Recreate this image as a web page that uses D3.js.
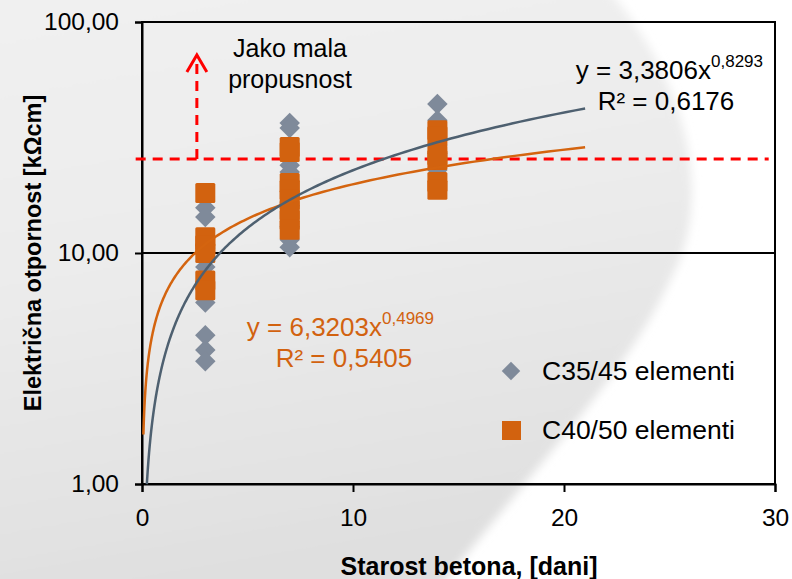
<!DOCTYPE html>
<html>
<head>
<meta charset="utf-8">
<script src="https://cdn.jsdelivr.net/npm/d3@7"></script>
<style>
  html,body{margin:0;padding:0;background:#fff;}
  svg text{font-family:"Liberation Sans",Arial,sans-serif;}
</style>
</head>
<body>
<svg id="chart" width="792" height="579"></svg>
<script>
/* ── data ── */
var xTicks=[0,10,20,30];
var yTicks=[1,10,100];
var yTickLabels=['1,00','10,00','100,00'];

// C35/45 elementi (rombovi)
var c35Age=[3,3,3,3,3,3,3,3, 7,7,7,7,7,7,7,7, 14,14,14,14,14];
var c35Val=[15.7,14.3,10.5,8.7,6.1,4.4,3.8,3.4, 36.5,34.8,24,22.4,16,13,11.4,10.6, 44.2,37.6,29.3,27,22.9];

// C40/50 elementi (kvadrati)
var c40Age=[3,3,3,3,3,3, 7,7,7,7,7,7,7,7, 14,14,14,14,14,14];
var c40Val=[18.2,11.7,10.8,10.0,7.6,6.9, 28.8,27.4,20.1,18.8,17.0,15.3,13.9,12.6, 34,32,26.5,25.3,20.3,18.8];

// power trendlines y = a*x^b  [a, b, xStart, xEnd]
var fitC35=[3.3806,0.8293,0.23,21];
var fitC40=[6.3203,0.4969,0.066,21];

// granica "jako mala propusnost"
var limitVal=25.5;
var limitX=[-0.3,29.7];
var arrowX=2.6, arrowTop=72;

/* ── layout ── */
var svg=d3.select('#chart');
var L=142, R=775, T=22, B=484;
var x=d3.scaleLinear().domain([0,30]).range([L,R]);
var y=d3.scaleLog().domain([1,100]).range([B,T]);

var GREY='#7f8a9a', ORANGE='#d2620f', BLUE_LINE='#4e6070', ORANGE_LINE='#d4640f';

/* ── background globe (approximation) ── */
var defs=svg.append('defs');
var grad=defs.append('linearGradient').attr('id','globe').attr('x1',0).attr('y1',0).attr('x2',0.2).attr('y2',1);
grad.append('stop').attr('offset','0%').attr('stop-color','#f1f1f1');
grad.append('stop').attr('offset','50%').attr('stop-color','#ebebeb');
grad.append('stop').attr('offset','100%').attr('stop-color','#dfdfdf');
defs.append('filter').attr('id','soft').attr('x','-10%').attr('y','-10%').attr('width','120%').attr('height','120%')
  .append('feGaussianBlur').attr('stdDeviation',5);
svg.append('rect').attr('width',792).attr('height',579).attr('fill','#fff');
svg.append('path')
  .attr('d','M-20,-20 L600,-20 C690,80 715,200 670,280 C630,370 540,460 430,600 L-20,600 Z')
  .attr('fill','url(#globe)').attr('filter','url(#soft)');

/* ── grid + frame ── */
svg.append('line').attr('x1',L).attr('x2',R).attr('y1',y(10)).attr('y2',y(10))
  .attr('stroke','#000').attr('stroke-width',2);
svg.append('rect').attr('x',L).attr('y',T).attr('width',R-L).attr('height',B-T)
  .attr('fill','none').attr('stroke','#000').attr('stroke-width',2);

/* ── axes ── */
var yAxis=svg.append('g').attr('transform','translate('+L+',0)')
  .call(d3.axisLeft(y).tickValues(yTicks).tickSize(7).tickPadding(16)
    .tickFormat(function(d,i){return yTickLabels[i];}));
var xAxis=svg.append('g').attr('transform','translate(0,'+B+')')
  .call(d3.axisBottom(x).tickValues(xTicks).tickSize(8).tickPadding(17));
[yAxis,xAxis].forEach(function(a){
  a.select('.domain').attr('stroke','#000').attr('stroke-width',2);
  a.selectAll('.tick line').attr('stroke','#000').attr('stroke-width',2);
  a.selectAll('.tick text').attr('font-size',24.5).attr('fill','#000')
    .attr('font-family','Liberation Sans,Arial,sans-serif');
});

svg.append('text').attr('x',469).attr('y',575).attr('text-anchor','middle')
  .attr('font-size',25).attr('font-weight','bold').text('Starost betona, [dani]');
svg.append('text').attr('transform','translate(41,'+((T+B)/2)+') rotate(-90)')
  .attr('text-anchor','middle').attr('font-size',23.5).attr('font-weight','bold')
  .text('Električna otpornost [kΩcm]');

/* ── limit line + arrow ── */
svg.append('line').attr('x1',x(limitX[0])).attr('x2',x(limitX[1]))
  .attr('y1',y(limitVal)).attr('y2',y(limitVal))
  .attr('stroke','#ff0000').attr('stroke-width',3).attr('stroke-dasharray','10,7');
svg.append('line').attr('x1',x(arrowX)).attr('x2',x(arrowX))
  .attr('y1',y(limitVal)).attr('y2',y(arrowTop)+2)
  .attr('stroke','#ff0000').attr('stroke-width',3).attr('stroke-dasharray','10,7');
svg.append('path')
  .attr('d','M'+(x(arrowX)-10)+','+(y(arrowTop)+17)+' L'+x(arrowX)+','+y(arrowTop)+' L'+(x(arrowX)+10)+','+(y(arrowTop)+17))
  .attr('fill','none').attr('stroke','#ff0000').attr('stroke-width',3);
var ann=svg.append('text').attr('font-family','DejaVu Sans,Verdana,sans-serif')
  .attr('font-size',25).attr('text-anchor','middle').attr('fill','#000');
ann.append('tspan').attr('x',290).attr('y',57).text('Jako mala');
ann.append('tspan').attr('x',290).attr('y',88).text('propusnost');

/* ── markers ── */
var diamond=d3.symbol().type(d3.symbolSquare).size(210);
svg.append('g').selectAll('path').data(c35Val).join('path')
  .attr('d',diamond())
  .attr('transform',function(d,i){return 'translate('+x(c35Age[i])+','+y(d)+') rotate(45)';})
  .attr('fill',GREY);
svg.append('g').selectAll('rect').data(c40Val).join('rect')
  .attr('x',function(d,i){return x(c40Age[i])-10;})
  .attr('y',function(d){return y(d)-10;})
  .attr('width',20).attr('height',20).attr('rx',1.5)
  .attr('fill',ORANGE);

/* ── trendlines ── */
function trend(f){
  var pts=d3.range(0,201).map(function(i){
    var t=f[2]*Math.pow(f[3]/f[2],i/200);
    return [t,f[0]*Math.pow(t,f[1])];
  });
  return d3.line().x(function(p){return x(p[0]);}).y(function(p){return y(p[1]);})(pts);
}
svg.append('path').attr('d',trend(fitC40)).attr('fill','none')
  .attr('stroke',ORANGE_LINE).attr('stroke-width',2.5);
svg.append('path').attr('d',trend(fitC35)).attr('fill','none')
  .attr('stroke',BLUE_LINE).attr('stroke-width',2.5);

/* ── equations ── */
function eq(xe,yb,a,b,r2,col,xr){
  var t=svg.append('text').attr('x',xe).attr('y',yb).attr('text-anchor','end')
    .attr('font-size',26).attr('fill',col);
  t.append('tspan').text('y = '+a+'x');
  t.append('tspan').attr('font-size',17).attr('dy',-12).text(b);
  svg.append('text').attr('x',xr).attr('y',yb+31).attr('text-anchor','middle')
    .attr('font-size',26).attr('fill',col).text('R² = '+r2);
}
eq(763,79,'3,3806','0,8293','0,6176','#000',666);
eq(434,336,'6,3203','0,4969','0,5405',ORANGE,344);

/* ── legend ── */
svg.append('path').attr('d',d3.symbol().type(d3.symbolSquare).size(170)())
  .attr('transform','translate(511,371) rotate(45)').attr('fill',GREY);
svg.append('rect').attr('x',502).attr('y',421).attr('width',19).attr('height',19).attr('fill',ORANGE);
svg.append('text').attr('x',542).attr('y',380).attr('font-size',26.5).text('C35/45 elementi');
svg.append('text').attr('x',542).attr('y',439).attr('font-size',26.5).text('C40/50 elementi');
</script>
</body>
</html>
